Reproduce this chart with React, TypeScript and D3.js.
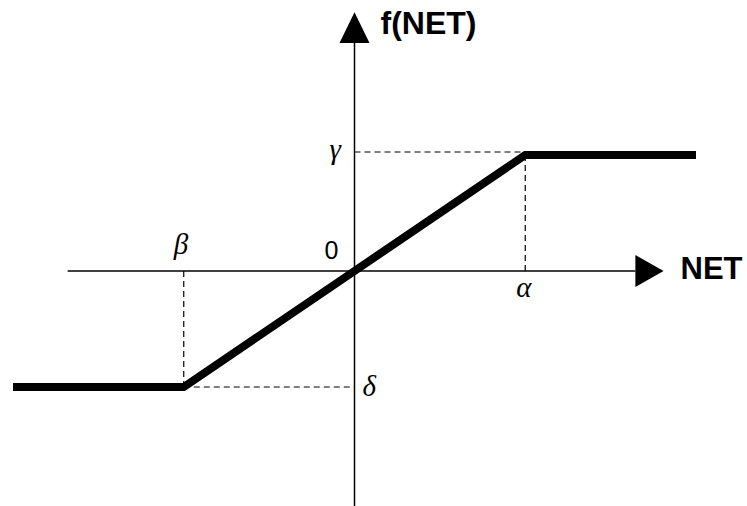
import React from "react";
import * as d3 from "d3";

// Piecewise-linear transfer function f(NET)
const netValues = [-2, -1, 0, 1, 2];
const fValues = [-1, -1, 0, 1, 1];
// Marked points on axes
const alphaX = 1;
const betaX = -1;
const gammaY = 1;
const deltaY = -1;
const axisLabels = { x: "NET", y: "f(NET)" };

const W = 747;
const H = 506;

export default function App() {
  const x = d3.scaleLinear().domain([-2, 2]).range([13, 696]);
  const y = d3.scaleLinear().domain([-1, 1]).range([387, 155]);
  const x0 = x(0);
  const y0 = y(0);

  const line = d3
    .line<number>()
    .x((_, i) => x(netValues[i]))
    .y((d) => y(d));

  const xAxisStart = x(-1.68);
  const xArrowBase = x(1.645);
  const xArrowTip = x(1.81);
  const yAxisBottom = y(-2.03);
  const yArrowBase = y(1.965);
  const yArrowTip = y(2.23);

  const dash = "6,4";
  const greek = { fontFamily: "'Liberation Serif', serif", fontStyle: "italic" as const, fontSize: 29 };

  return (
    <svg
      width={W}
      height={H}
      style={{ position: "absolute", left: 0, top: 0, background: "#fff" }}
    >
      {/* axes */}
      <line x1={xAxisStart} x2={xArrowBase} y1={y0} y2={y0} stroke="#000" strokeWidth={1.5} />
      <polygon
        points={`${xArrowBase},${y0 - 16} ${xArrowTip},${y0} ${xArrowBase},${y0 + 16}`}
        fill="#000"
      />
      <line x1={x0} x2={x0} y1={yAxisBottom} y2={yArrowBase} stroke="#000" strokeWidth={1.5} />
      <polygon
        points={`${x0 - 15},${yArrowBase} ${x0},${yArrowTip} ${x0 + 15},${yArrowBase}`}
        fill="#000"
      />

      {/* dashed guides */}
      <line x1={x0} x2={x(alphaX)} y1={y(gammaY) - 3} y2={y(gammaY) - 3} stroke="#000" strokeDasharray={dash} strokeWidth={1.2} />
      <line x1={x(alphaX)} x2={x(alphaX)} y1={y(gammaY)} y2={y0} stroke="#000" strokeDasharray={dash} strokeWidth={1.2} />
      <line x1={x(betaX)} x2={x0} y1={y(deltaY)} y2={y(deltaY)} stroke="#000" strokeDasharray={dash} strokeWidth={1.2} />
      <line x1={x(betaX)} x2={x(betaX)} y1={y0} y2={y(deltaY)} stroke="#000" strokeDasharray={dash} strokeWidth={1.2} />

      {/* function */}
      <path d={line(fValues) || ""} fill="none" stroke="#000" strokeWidth={8} strokeLinejoin="miter" />

      {/* labels */}
      <text x={x0 + 26} y={y(2.04)} fontFamily="'Liberation Sans', Arial, sans-serif" fontWeight="bold" fontSize={32}>
        {axisLabels.y}
      </text>
      <text x={xArrowTip + 17} y={y0 + 8} fontFamily="'Liberation Sans', Arial, sans-serif" fontWeight="bold" fontSize={31}>
        {axisLabels.x}
      </text>
      <text x={x0 - 25} y={y(gammaY) + 4} {...greek}>γ</text>
      <text x={x(alphaX) - 9} y={y0 + 26} {...greek}>α</text>
      <text x={x(betaX) - 10} y={y0 - 17} {...greek}>β</text>
      <text x={x0 + 8} y={y(deltaY) + 9} {...greek}>δ</text>
      <text x={x0 - 30} y={y0 - 12} fontFamily="'Liberation Sans', Arial, sans-serif" fontWeight={300} fontSize={25}>0</text>
    </svg>
  );
}
